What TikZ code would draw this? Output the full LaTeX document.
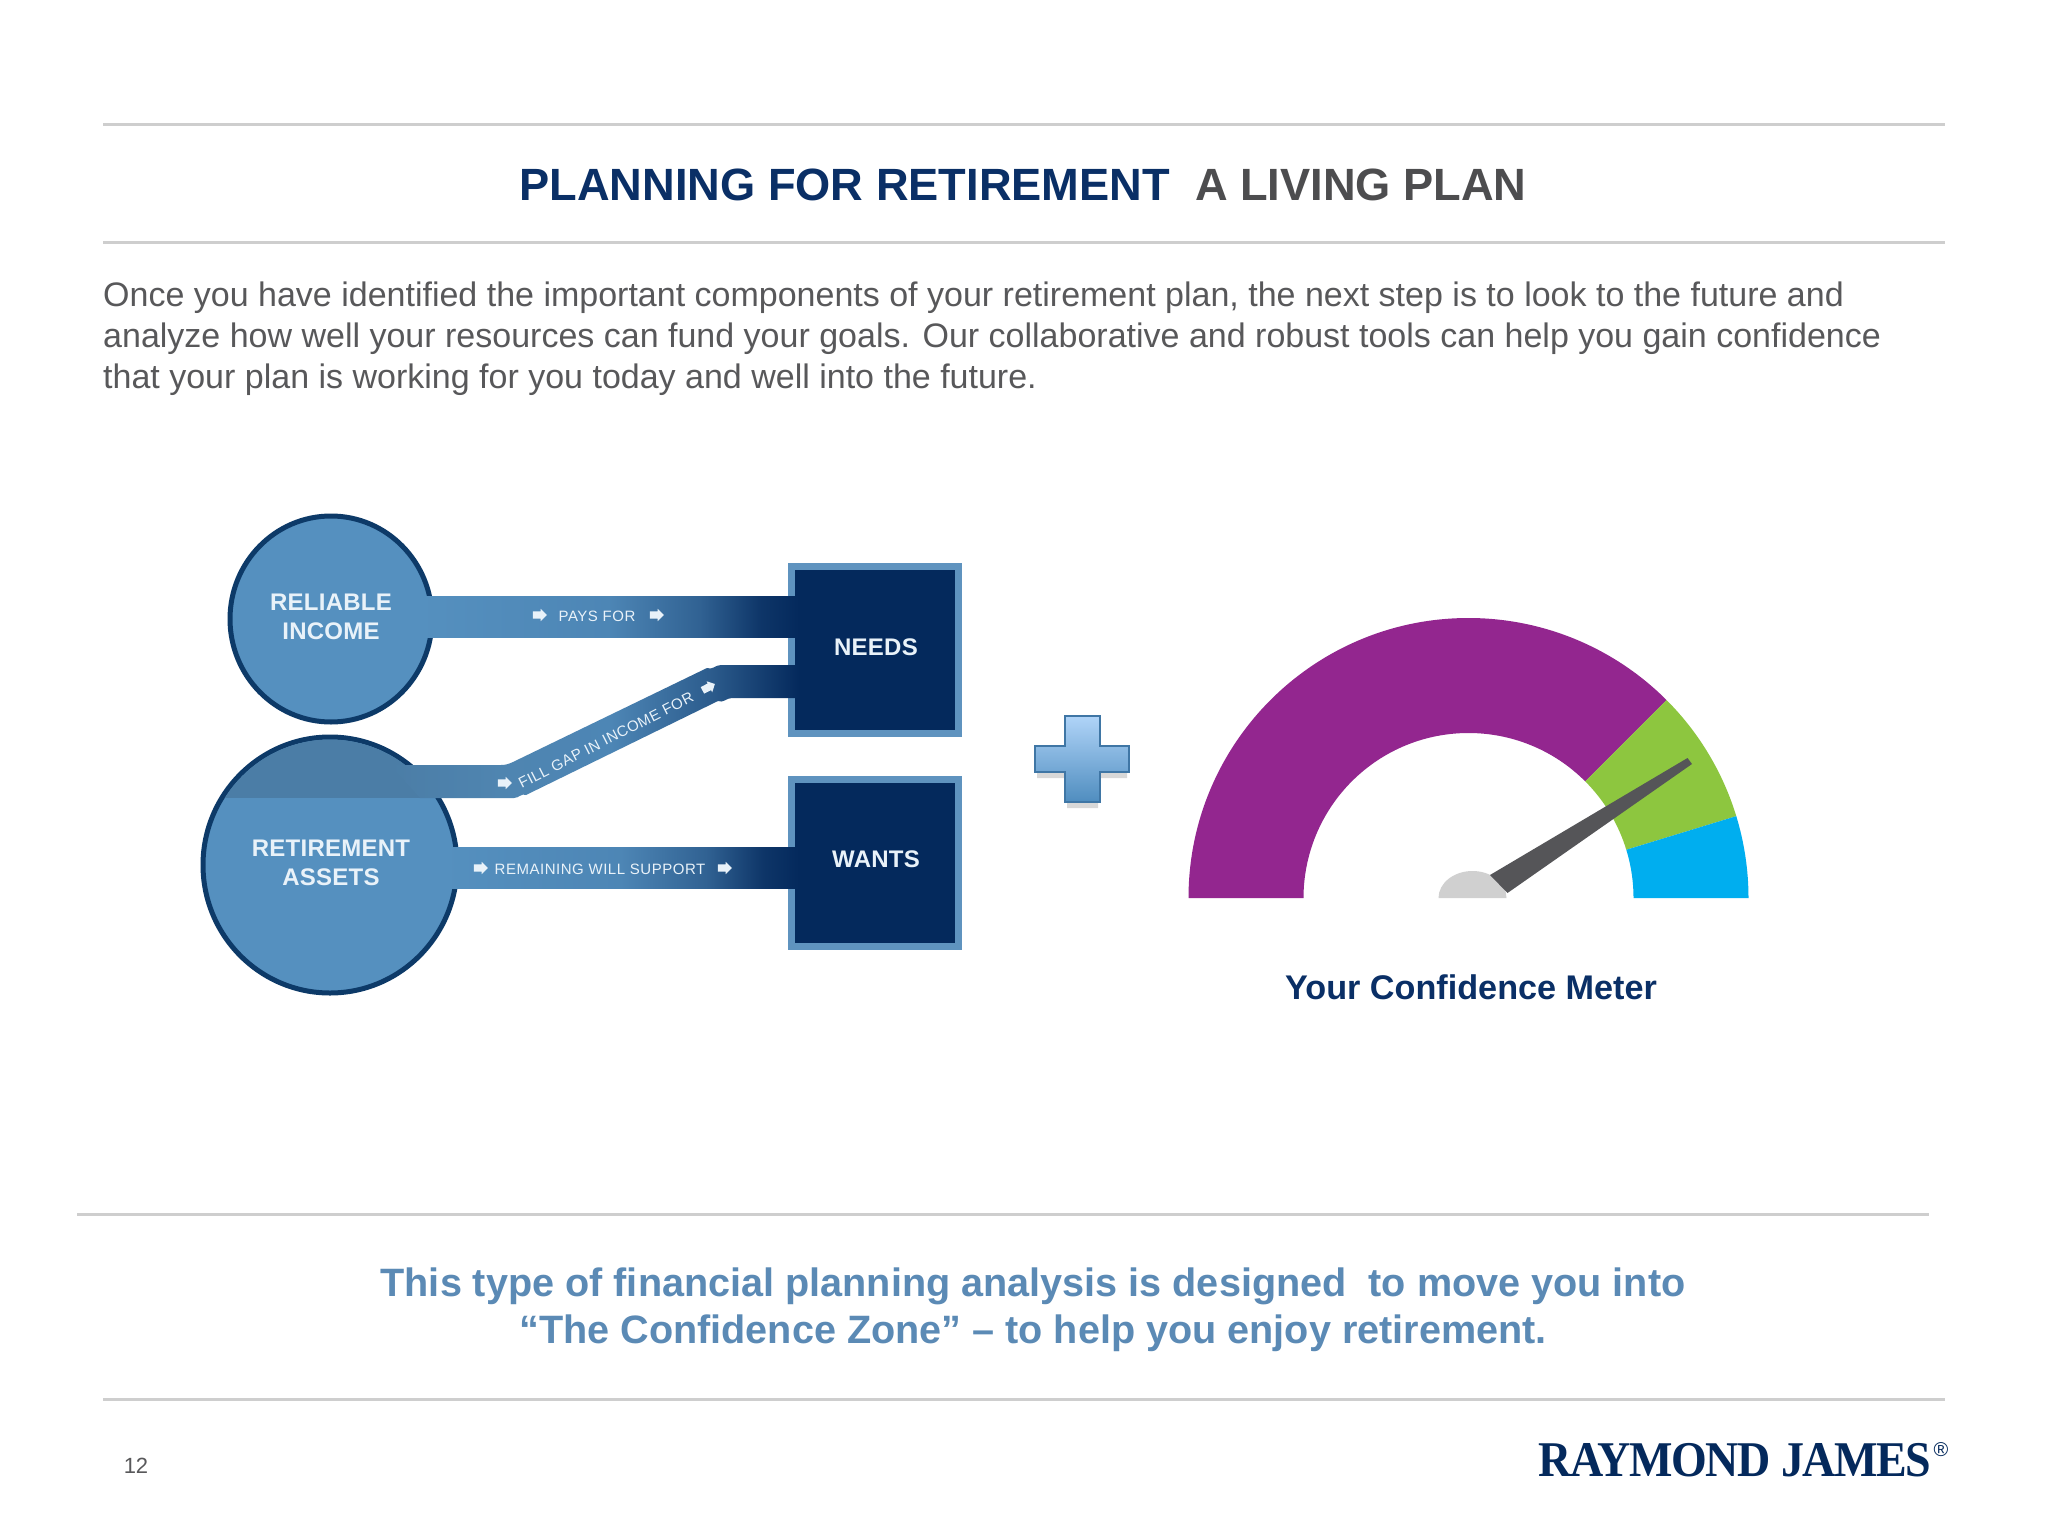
\documentclass[tikz,border=0pt]{standalone}
\usepackage{fontspec}
\setmainfont{Liberation Sans}
\newfontfamily\serifbrand{Liberation Serif}
\newfontfamily\labelfont[LetterSpace=1]{Liberation Sans}
\newfontfamily\tinylabelfont[LetterSpace=3.5]{Liberation Sans}
\usetikzlibrary{shapes.geometric,shapes.arrows,calc}
\definecolor{navy}{HTML}{04295C}
\definecolor{titlenavy}{HTML}{0A2F66}
\definecolor{titlegray}{HTML}{4D4D4F}
\definecolor{bodygray}{HTML}{58585A}
\definecolor{rulegray}{HTML}{CECECE}
\definecolor{ballblue}{HTML}{5590BF}
\definecolor{ballrim}{HTML}{0D3A68}
\definecolor{chordblue}{HTML}{4B7DA6}
\definecolor{boxedge}{HTML}{5F93BF}
\definecolor{softblue}{HTML}{5B8AB5}
\definecolor{labelwhite}{HTML}{E9F2F9}
\definecolor{meterpurple}{HTML}{93268F}
\definecolor{metergreen}{HTML}{8DC63F}
\definecolor{meterblue}{HTML}{00AEEF}
\definecolor{needlegray}{HTML}{555558}
\definecolor{hubgray}{HTML}{D0D0D0}
\definecolor{plustop}{HTML}{B0D4F8}
\definecolor{plusbottom}{HTML}{4F8DBF}
\definecolor{plusrim}{HTML}{3F76A5}
\pgfdeclarehorizontalshading{bandramp}{100bp}{color(0bp)=(ballblue); color(25bp)=(ballblue); color(50bp)=(ballblue!90!navy); color(62bp)=(ballblue!55!navy); color(70bp)=(ballblue!12!navy); color(75bp)=(navy); color(100bp)=(navy)}
\pgfdeclarehorizontalshading{gapramp}{100bp}{color(0bp)=(chordblue); color(25bp)=(chordblue); color(38bp)=(chordblue!60!ballblue); color(52bp)=(ballblue!90!navy); color(64bp)=(ballblue!50!navy); color(75bp)=(navy); color(100bp)=(navy)}
\tikzset{
  rulerline/.style={draw=rulegray,line width=3pt},
  ball/.style={ellipse,fill=ballblue,draw=ballrim,line width=5pt,inner sep=0pt,outer sep=0pt},
  goalbox/.style={rectangle,fill=navy,draw=boxedge,line width=7pt,inner sep=0pt,outer sep=0pt,minimum width=167pt,minimum height=167pt},
  bigtag/.style={text=labelwhite,font=\labelfont\bfseries\fontsize{24}{29}\selectfont,align=center,inner sep=0pt},
  smalltag/.style={text=labelwhite,font=\tinylabelfont\fontsize{15}{18}\selectfont,inner sep=0pt},
  tinyarrow/.style={single arrow,fill=labelwhite,inner sep=0pt,minimum height=14pt,single arrow head extend=2.5pt,single arrow head indent=0pt},
}
\newcommand{\arrowbody}{\rule{0pt}{7pt}}
\begin{document}
\begin{tikzpicture}[x=1pt,y=-1pt]
\useasboundingbox (0,0) rectangle (2048,1536);
\fill[white] (0,0) rectangle (2048,1536);
% rules
\coordinate (r1a) at (103,125); \coordinate (r1b) at (1945,125);
\coordinate (r2a) at (103,242); \coordinate (r2b) at (1945,242);
\coordinate (r3a) at (77,1214); \coordinate (r3b) at (1929,1214);
\coordinate (r4a) at (103,1399); \coordinate (r4b) at (1945,1399);
\draw[rulerline] (r1a) -- (r1b);
\draw[rulerline] (r2a) -- (r2b);
\draw[rulerline] (r3a) -- (r3b);
\draw[rulerline] (r4a) -- (r4b);
% texts
\node[inner sep=0pt,font=\bfseries\fontsize{45.2}{54}\selectfont] (title) at (1023,185)
  {\textcolor{titlenavy}{PLANNING FOR RETIREMENT}\ \ \textcolor{titlegray}{A LIVING PLAN}};
\node[anchor=north west,inner sep=0pt,align=left,text=bodygray,font=\fontsize{34}{41}\selectfont] (intro) at (103,282)
  {Once you have identified the important components of your retirement plan, the next step is to look to the future and\\
   analyze how well your resources can fund your goals. Our collaborative and robust tools can help you gain confidence\\
   that your plan is working for you today and well into the future.};
\node[inner sep=0pt,align=center,text=softblue,font=\bfseries\fontsize{39.6}{47}\selectfont] (closing) at (1033,1310)
  {This type of financial planning analysis is designed\ \ to move you into\\
   “The Confidence Zone” – to help you enjoy retirement.};
\node[inner sep=0pt,text=bodygray,font=\fontsize{22}{26}\selectfont] (pageno) at (136,1466) {12};
\node[inner sep=0pt,anchor=west,text=navy,font=\serifbrand\bfseries] (brand) at (1538,1460)
  {\scalebox{.92}[1]{\fontsize{50}{56}\selectfont\addfontfeature{LetterSpace=-3}RAYMOND JAMES}};
\node[inner sep=0pt,text=navy,font=\fontsize{20}{22}\selectfont] (regmark) at (1941,1450) {®};
% balls and boxes
\node[ball,minimum width=202pt,minimum height=206pt] (rel) at (331,619) {};
\node[ball,minimum width=254pt,minimum height=256pt] (ret) at (330,865) {};
\begin{scope}
  \clip (ret.center) ellipse [x radius=124.5pt,y radius=125.5pt];
  \fill[chordblue] (200,730) rectangle (470,798);
\end{scope}
\node[goalbox] (needs) at (874.5,650) {};
\node[goalbox] (wants) at (874.5,862.5) {};
% connectors
\shade[shading=bandramp] ($(rel.east)+(-14,-23)$) rectangle ($(needs.west)+(8,-13)$);
\shade[shading=bandramp] ($(ret.east)+(-14,-18)$) rectangle ($(wants.west)+(8,25.5)$);
\coordinate (gapA) at ($(ret.center)+(60,-100)$);
\coordinate (gapB) at (507,765);
\coordinate (gapC) at (713,665);
\coordinate (gapD) at ($(needs.west)+(8,15)$);
\coordinate (gapE) at ($(needs.west)+(8,48)$);
\coordinate (gapF) at (724,698);
\coordinate (gapG) at (520,798);
\coordinate (gapH) at ($(ret.center)+(90,-67)$);
\shade[shading=gapramp] (gapA) -- ($(gapB)+(-6,0)$) to[out=0,in=205] ($(gapB)+(6,-3)$) -- ($(gapC)+(-6,3)$) to[out=-25,in=180] ($(gapC)+(8,0)$) -- (gapD) -- (gapE) -- ($(gapF)+(8,0)$) to[out=180,in=-25] ($(gapF)+(-6,3)$) -- ($(gapG)+(6,-3)$) to[out=155,in=0] ($(gapG)+(-6,0)$) -- (gapH) -- cycle;
% labels
\node[bigtag] (relt) at (331,617) {RELIABLE\\INCOME};
\node[bigtag] (rett) at (331,863) {RETIREMENT\\ASSETS};
\node[bigtag] (needst) at (876,647) {NEEDS};
\node[bigtag] (wantst) at (876,859) {WANTS};
\node[smalltag] (t1) at (597,616) {PAYS FOR};
\node[tinyarrow] (a1) at (538,615) {\arrowbody};
\node[tinyarrow] (a2) at (655,615) {\arrowbody};
\node[smalltag] (t2) at (600,869) {REMAINING WILL SUPPORT};
\node[tinyarrow] (a3) at (479,868) {\arrowbody};
\node[tinyarrow] (a4) at (723,868) {\arrowbody};
\node[smalltag,rotate=27] (t3) at (606,740) {FILL GAP IN INCOME FOR};
\node[tinyarrow] (a5) at (503,783) {\arrowbody};
\node[tinyarrow,rotate=27] (a6) at (707,688) {\arrowbody};
% plus
\fill[black!30,opacity=.5] (1067,721) -- (1098,721) -- (1098,751) -- (1127,751) -- (1127,778) -- (1098,778) -- (1098,808) -- (1067,808) -- (1067,778) -- (1037,778) -- (1037,751) -- (1067,751) -- cycle;
\path[top color=plustop,bottom color=plusbottom,draw=plusrim,line width=2pt]
  (1065,716) -- (1100,716) -- (1100,746) -- (1129,746) -- (1129,772) -- (1100,772) -- (1100,802) -- (1065,802) -- (1065,772) -- (1035,772) -- (1035,746) -- (1065,746) -- cycle;
% meter
\begin{scope}[shift={(1468.5,898)},x=1pt,y=1pt]
  \fill[meterpurple] (180:280) arc [start angle=180,end angle=45,radius=280pt] -- (45:165) arc [start angle=45,end angle=180,radius=165pt] -- cycle;
  \fill[metergreen] (45:280) arc [start angle=45,end angle=17,radius=280pt] -- (17:165) arc [start angle=17,end angle=45,radius=165pt] -- cycle;
  \fill[meterblue] (17:280) arc [start angle=17,end angle=0,radius=280pt] -- (0:165) arc [start angle=0,end angle=17,radius=165pt] -- cycle;
  \fill[hubgray] (-30,0) arc [start angle=180,end angle=0,x radius=34pt,y radius=27pt] -- cycle;
  \fill[needlegray] (21.5,23) -- (219,140) -- (223.5,134) -- (39,5) -- cycle;
\end{scope}
\node[inner sep=0pt,text=titlenavy,font=\bfseries\fontsize{34.2}{42}\selectfont] (meterlabel) at (1471,987) {Your Confidence Meter};
\end{tikzpicture}
\end{document}
